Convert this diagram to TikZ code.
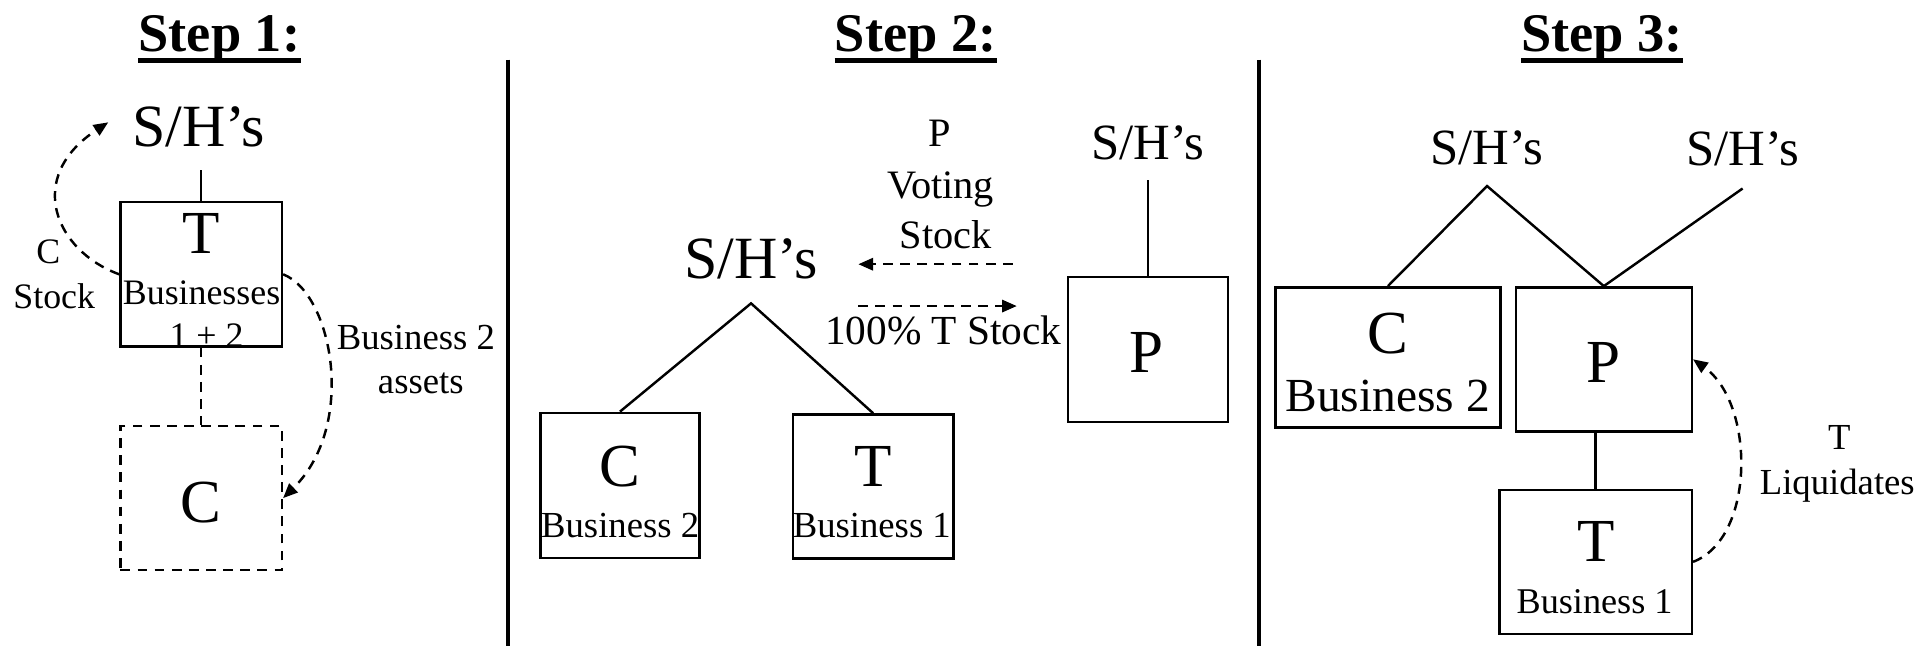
\documentclass[tikz,border=0pt]{standalone}
\usepackage{fontspec}
\setmainfont{Liberation Serif}
\usetikzlibrary{arrows.meta,calc}
\begin{document}
\begin{tikzpicture}[x=1pt,y=-1pt,
  txt/.style={inner sep=0pt, anchor=base, font=\fontsize{#1}{#1}\selectfont},
  ttl/.style={inner sep=0pt, anchor=base, font=\fontsize{44.5}{44.5}\selectfont\bfseries},
  box/.style={draw, line width=2pt, inner sep=0pt},
  conn/.style={line width=2pt},
  dsh/.style={line width=2pt, dash pattern=on 8pt off 6pt},
  arr/.style={dsh, -{Triangle[length=12pt,width=10pt]}},
  sep/.style={line width=3.3pt}
]
\useasboundingbox (0,0) rectangle (1568,528);

% titles
\node[ttl] (t1) at (179.4,42.3) {Step 1:};
\node[ttl] (t2) at (748.6,42.3) {Step 2:};
\node[ttl] (t3) at (1309.8,42.3) {Step 3:};
\foreach \t in {t1,t2,t3}{
  \draw[line width=4pt] ($(\t.base west)+(0,7.4)$) -- ($(\t.base east)+(0,7.4)$);
}

% separators
\coordinate (s1a) at (415,48.8); \coordinate (s1b) at (415,528);
\coordinate (s2a) at (1029.5,48.8); \coordinate (s2b) at (1029.5,528);
\draw[sep] (s1a) -- (s1b);
\draw[sep] (s2a) -- (s2b);

% ---------- Step 1 ----------
\node[txt=49] (sh1) at (162.4,120) {S/H’s};
\node[box, minimum width=132pt, minimum height=118pt] (tbox1) at (164.45,224.25) {};
\node[box, dsh, minimum width=132pt, minimum height=118pt] (cbox1) at (164.45,407.2) {};
\node[txt=50] (tl1) at (164.2,207) {T};
\node[txt=29.3] (bl1) at (164.8,249) {Businesses};
\node[txt=29.3] (bl1b) at (168.9,284.3) {1 + 2};
\node[txt=50] (cl1) at (164.2,427.3) {C};
\node[txt=29.3] (lc1) at (39.5,215.3) {C};
\node[txt=29.3] (lc2) at (44.3,252.4) {Stock};
\node[txt=30] (lb1) at (340,286) {Business 2};
\node[txt=30] (lb2) at (344,321.3) {assets};
\coordinate (sh1arr) at (88.5,100);

\draw[conn] (tbox1.north) -- ++(0,-25);
\draw[dsh] (tbox1.south) -- (cbox1.north);
\draw[arr] (tbox1.west) .. controls (45,205) and (20,145) .. (sh1arr);
\draw[arr] (tbox1.east) .. controls (272,240) and (292,348) .. (cbox1.east);

% ---------- Step 2 ----------
\node[txt=49] (sh2) at (614,228) {S/H’s};
\node[txt=41.5] (sh2b) at (938.4,130) {S/H’s};
\node[box, minimum width=130.3pt, minimum height=118.5pt] (cbox2) at (506.85,396.75) {};
\node[box, minimum width=131.2pt, minimum height=117.8pt] (tbox2) at (713.8,397.7) {};
\node[box, minimum width=131pt, minimum height=118.6pt] (pbox2) at (938.5,285.7) {};
\node[txt=50] (cl2) at (506.9,398) {C};
\node[txt=30] (cb2) at (507,439) {Business 2};
\node[txt=50] (tl2) at (713.9,398) {T};
\node[txt=30] (tb2) at (712.7,439) {Business 1};
\node[txt=50] (pl2) at (937.5,304.5) {P};
\node[txt=33] (vp) at (768.5,119.9) {P};
\node[txt=33] (vv) at (769,162.2) {Voting};
\node[txt=33] (vs) at (773.2,203) {Stock};
\node[txt=33.8] (ts) at (771.2,282) {100\% T Stock};

\coordinate (ap2) at ($(sh2.base)+(0,20)$);
\draw[conn] (cbox2.north) -- (ap2) -- (tbox2.north);
\draw[conn] (pbox2.north) -- ++(0,-78.4);

\coordinate (a1s) at (827.9,216); \coordinate (a1e) at (701.7,216);
\coordinate (a2s) at (701.7,250.2); \coordinate (a2e) at (831.2,250.2);
\draw[arr] (a1s) -- (a1e);
\draw[arr] (a2s) -- (a2e);

% ---------- Step 3 ----------
\node[txt=41.5] (sh3a) at (1215.7,134.6) {S/H’s};
\node[txt=41.5] (sh3b) at (1424.6,135.3) {S/H’s};
\node[box, minimum width=183.8pt, minimum height=114.4pt] (cbox3) at (1134.6,292.1) {};
\node[box, minimum width=143.9pt, minimum height=117.7pt] (pbox3) at (1311.15,293.75) {};
\node[box, minimum width=157.3pt, minimum height=117.8pt] (tbox3) at (1304.45,459.3) {};
\node[txt=50] (cl3) at (1134.4,288.7) {C};
\node[txt=38.8] (cb3) at (1134.4,336.5) {Business 2};
\node[txt=50] (pl3) at (1311,313) {P};
\node[txt=50] (tl3) at (1304.6,459.3) {T};
\node[txt=29.6] (tb3) at (1303.6,501.3) {Business 1};
\node[txt=30] (lq1) at (1503.6,367.3) {T};
\node[txt=30] (lq2) at (1502,403.9) {Liquidates};

\coordinate (ap3) at ($(sh3a.base)+(0,17.5)$);
\draw[conn] (cbox3.north) -- (ap3) -- (pbox3.north);
\draw[conn] ($(sh3b.base)+(0,18.8)$) -- (pbox3.north);
\draw[conn] (tbox3.north) -- (tbox3.north |- pbox3.south);
\draw[arr] (tbox3.east) .. controls (1435,440) and (1435,330) .. (pbox3.east);

\end{tikzpicture}
\end{document}
